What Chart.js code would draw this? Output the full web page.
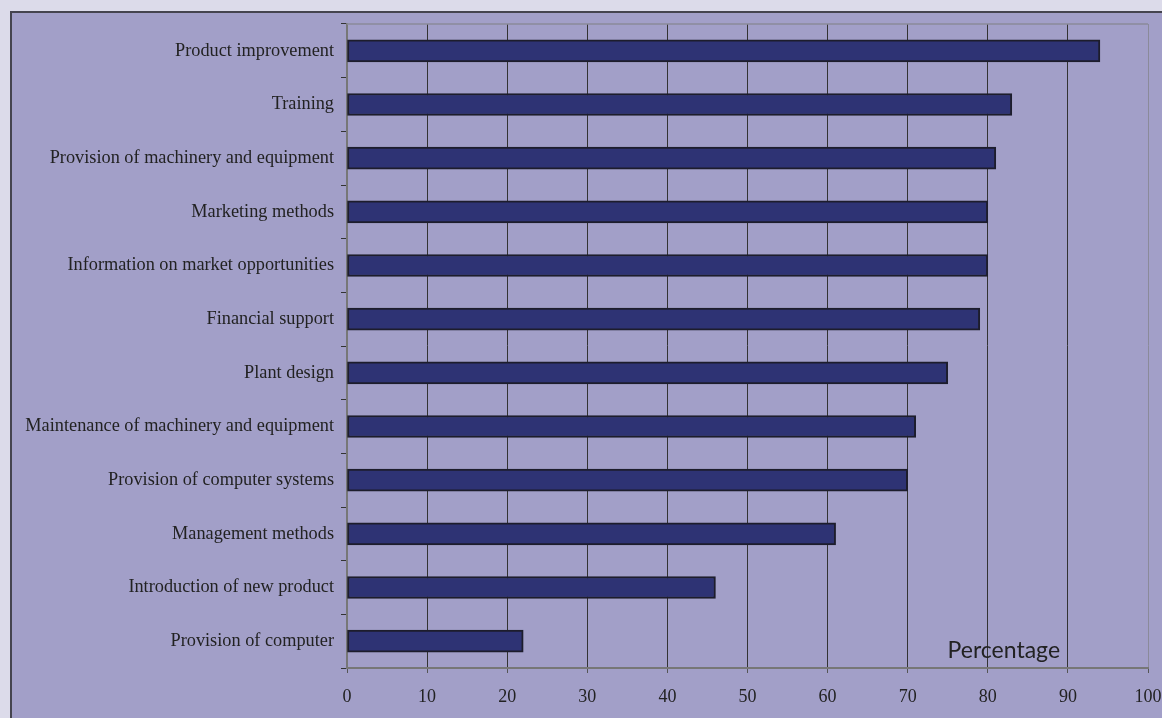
<!DOCTYPE html>
<html>
<head>
<meta charset="utf-8">
<script src="https://cdn.jsdelivr.net/npm/chart.js@4.4.1/dist/chart.umd.min.js"></script>
<style>
  html, body { margin: 0; padding: 0; background: #dcdbea; overflow: hidden; }
  #frame {
    position: absolute; left: 10px; top: 11px; width: 1170px; height: 730px;
    background: #a29fc8; border: 2px solid #45444f;
  }
  #chart { position: absolute; left: 0; top: 0; }
</style>
</head>
<body>
<div id="frame"></div>
<canvas id="chart" width="1162" height="718"></canvas>
<script>
// categories, listed top to bottom as in the picture
const categories = [
  "Product improvement",
  "Training",
  "Provision of machinery and equipment",
  "Marketing methods",
  "Information on market opportunities",
  "Financial support",
  "Plant design",
  "Maintenance of machinery and equipment",
  "Provision of computer systems",
  "Management methods",
  "Introduction of new product",
  "Provision of computer"
];
const percentages = [94, 83, 81, 80, 80, 79, 75, 71, 70, 61, 46, 22];
const xTicks = [0, 10, 20, 30, 40, 50, 60, 70, 80, 90, 100];
const axisTitle = "Percentage";

// frame line on top of the plot + the "Percentage" label inside the plot
const extras = {
  id: "extras",
  afterDraw(chart) {
    const { ctx, chartArea, scales } = chart;
    ctx.save();
    ctx.strokeStyle = "#8a8a9a";
    ctx.lineWidth = 1.5;
    ctx.beginPath();
    ctx.moveTo(chartArea.left, chartArea.top);
    ctx.lineTo(chartArea.right, chartArea.top);
    ctx.stroke();
    ctx.font = "23px Lato";
    ctx.fillStyle = "#222";
    ctx.textAlign = "center";
    ctx.textBaseline = "alphabetic";
    ctx.fillText(axisTitle, scales.x.getPixelForValue(82), chartArea.bottom - 10);
    ctx.restore();
  }
};

new Chart(document.getElementById("chart"), {
  type: "bar",
  data: {
    labels: categories,
    datasets: [{
      data: percentages,
      backgroundColor: "#2e3374",
      borderColor: "#1d1d2c",
      borderWidth: 2,
      borderSkipped: false,
      barThickness: 22
    }]
  },
  options: {
    indexAxis: "y",
    responsive: false,
    animation: false,
    layout: { padding: { top: 24, right: 0, left: 0, bottom: 0 } },
    plugins: { legend: { display: false }, tooltip: { enabled: false } },
    scales: {
      x: {
        min: 0, max: 100,
        afterBuildTicks: s => { s.ticks = xTicks.map(v => ({ value: v })); },
        afterFit: s => { s.height = 50; s.paddingRight = 14; },
        border: { color: "#777", width: 2 },
        grid: {
          color: c => (c.tick && c.tick.value === 100) ? "#8a8a9a" : "#333",
          lineWidth: 1,
          tickColor: "#555",
          tickLength: 5
        },
        ticks: {
          padding: 13,
          color: "#222",
          font: { family: "Liberation Serif", size: 18 }
        }
      },
      y: {
        afterFit: s => { s.width = 347; },
        border: { color: "#777", width: 2 },
        grid: {
          offset: true,
          drawOnChartArea: false,
          tickColor: "#333",
          tickLength: 6
        },
        ticks: {
          padding: 7,
          color: "#222",
          font: { family: "Liberation Serif", size: 18.3 }
        }
      }
    }
  },
  plugins: [extras]
});
</script>
</body>
</html>
